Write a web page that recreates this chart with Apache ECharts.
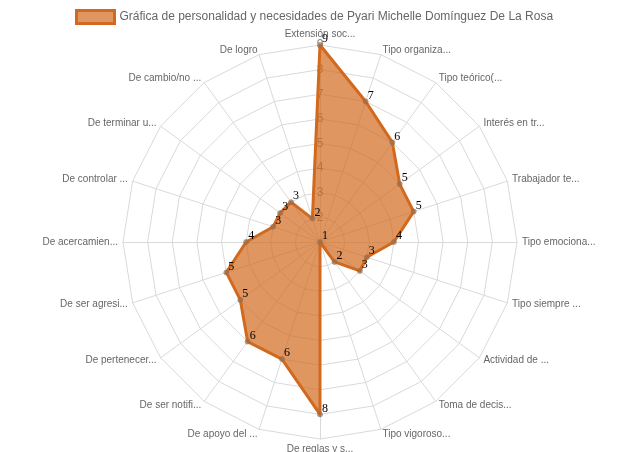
<!DOCTYPE html>
<html>
<head>
<meta charset="utf-8">
<script src="https://cdn.jsdelivr.net/npm/echarts@6/dist/echarts.min.js"></script>
<style>html,body{margin:0;padding:0;background:#fff}#c{width:639px;height:452px}</style>
</head>
<body>
<div id="c"></div>
<script>
const seriesName = 'Gráfica de personalidad y necesidades de Pyari Michelle Domínguez De La Rosa';
const categories = ['Extensión soc...','Tipo organiza...','Tipo teórico(...','Interés en tr...','Trabajador te...','Tipo emociona...','Tipo siempre ...','Actividad de ...','Toma de decis...','Tipo vigoroso...','De reglas y s...','De apoyo del ...','De ser notifi...','De pertenecer...','De ser agresi...','De acercamien...','De controlar ...','De terminar u...','De cambio/no ...','De logro'];
const values = [9,7,6,5,5,4,3,3,2,1,8,6,6,5,5,4,3,3,3,2];
const scaleMin = 1, scaleMax = 9;

// ECharts radar runs counter-clockwise; reorder so categories go clockwise from the top
const order = [0].concat(categories.map((_, i) => i).slice(1).reverse());
const cwCategories = order.map(i => categories[i]);
const cwValues = order.map(i => values[i]);

const chart = echarts.init(document.getElementById('c'));
chart.setOption({
  animation: false,
  legend: {
    top: 4, left: 70,
    data: [{name: seriesName, icon: 'rect'}],
    itemWidth: 38, itemHeight: 13, itemGap: 7,
    itemStyle: {color: 'rgba(210,105,30,0.7)', borderColor: '#d2691e', borderWidth: 3},
    textStyle: {color: '#666', fontSize: 12, fontFamily: 'Liberation Sans, Arial, sans-serif'}
  },
  radar: {
    center: [320, 242],
    radius: 197,
    startAngle: 90,
    shape: 'polygon',
    splitNumber: scaleMax - scaleMin,
    nameGap: 5,
    axisName: {color: '#666', fontSize: 10, fontFamily: 'Liberation Sans, Arial, sans-serif'},
    splitArea: {show: false},
    splitLine: {lineStyle: {color: '#d9d9d9', width: 1}},
    axisLine: {lineStyle: {color: '#d9d9d9', width: 1}},
    axisTick: {show: false},
    axisLabel: {show: false},
    indicator: cwCategories.map((c, i) => ({
      name: c, min: scaleMin, max: scaleMax,
      axisLabel: i === 0 ? {show: true, showMinLabel: false, color: '#888', fontSize: 12, margin: 0, align: 'center', fontFamily: 'Liberation Sans, Arial, sans-serif'} : {show: false}
    }))
  },
  series: [{
    type: 'radar',
    name: seriesName,
    symbol: 'circle',
    symbolSize: 5,
    itemStyle: {color: 'rgba(150,110,80,0.6)', borderColor: 'rgba(150,110,80,0.6)'},
    lineStyle: {color: '#d2691e', width: 3},
    areaStyle: {color: 'rgba(210,105,30,0.7)', opacity: 1},
    label: {show: true, position: 'right', distance: 0, offset: [-1, -6], color: '#000', fontSize: 12, fontFamily: 'Liberation Serif, Times New Roman, serif'},
    data: [{value: cwValues, name: seriesName}]
  }]
});
</script>
</body>
</html>
